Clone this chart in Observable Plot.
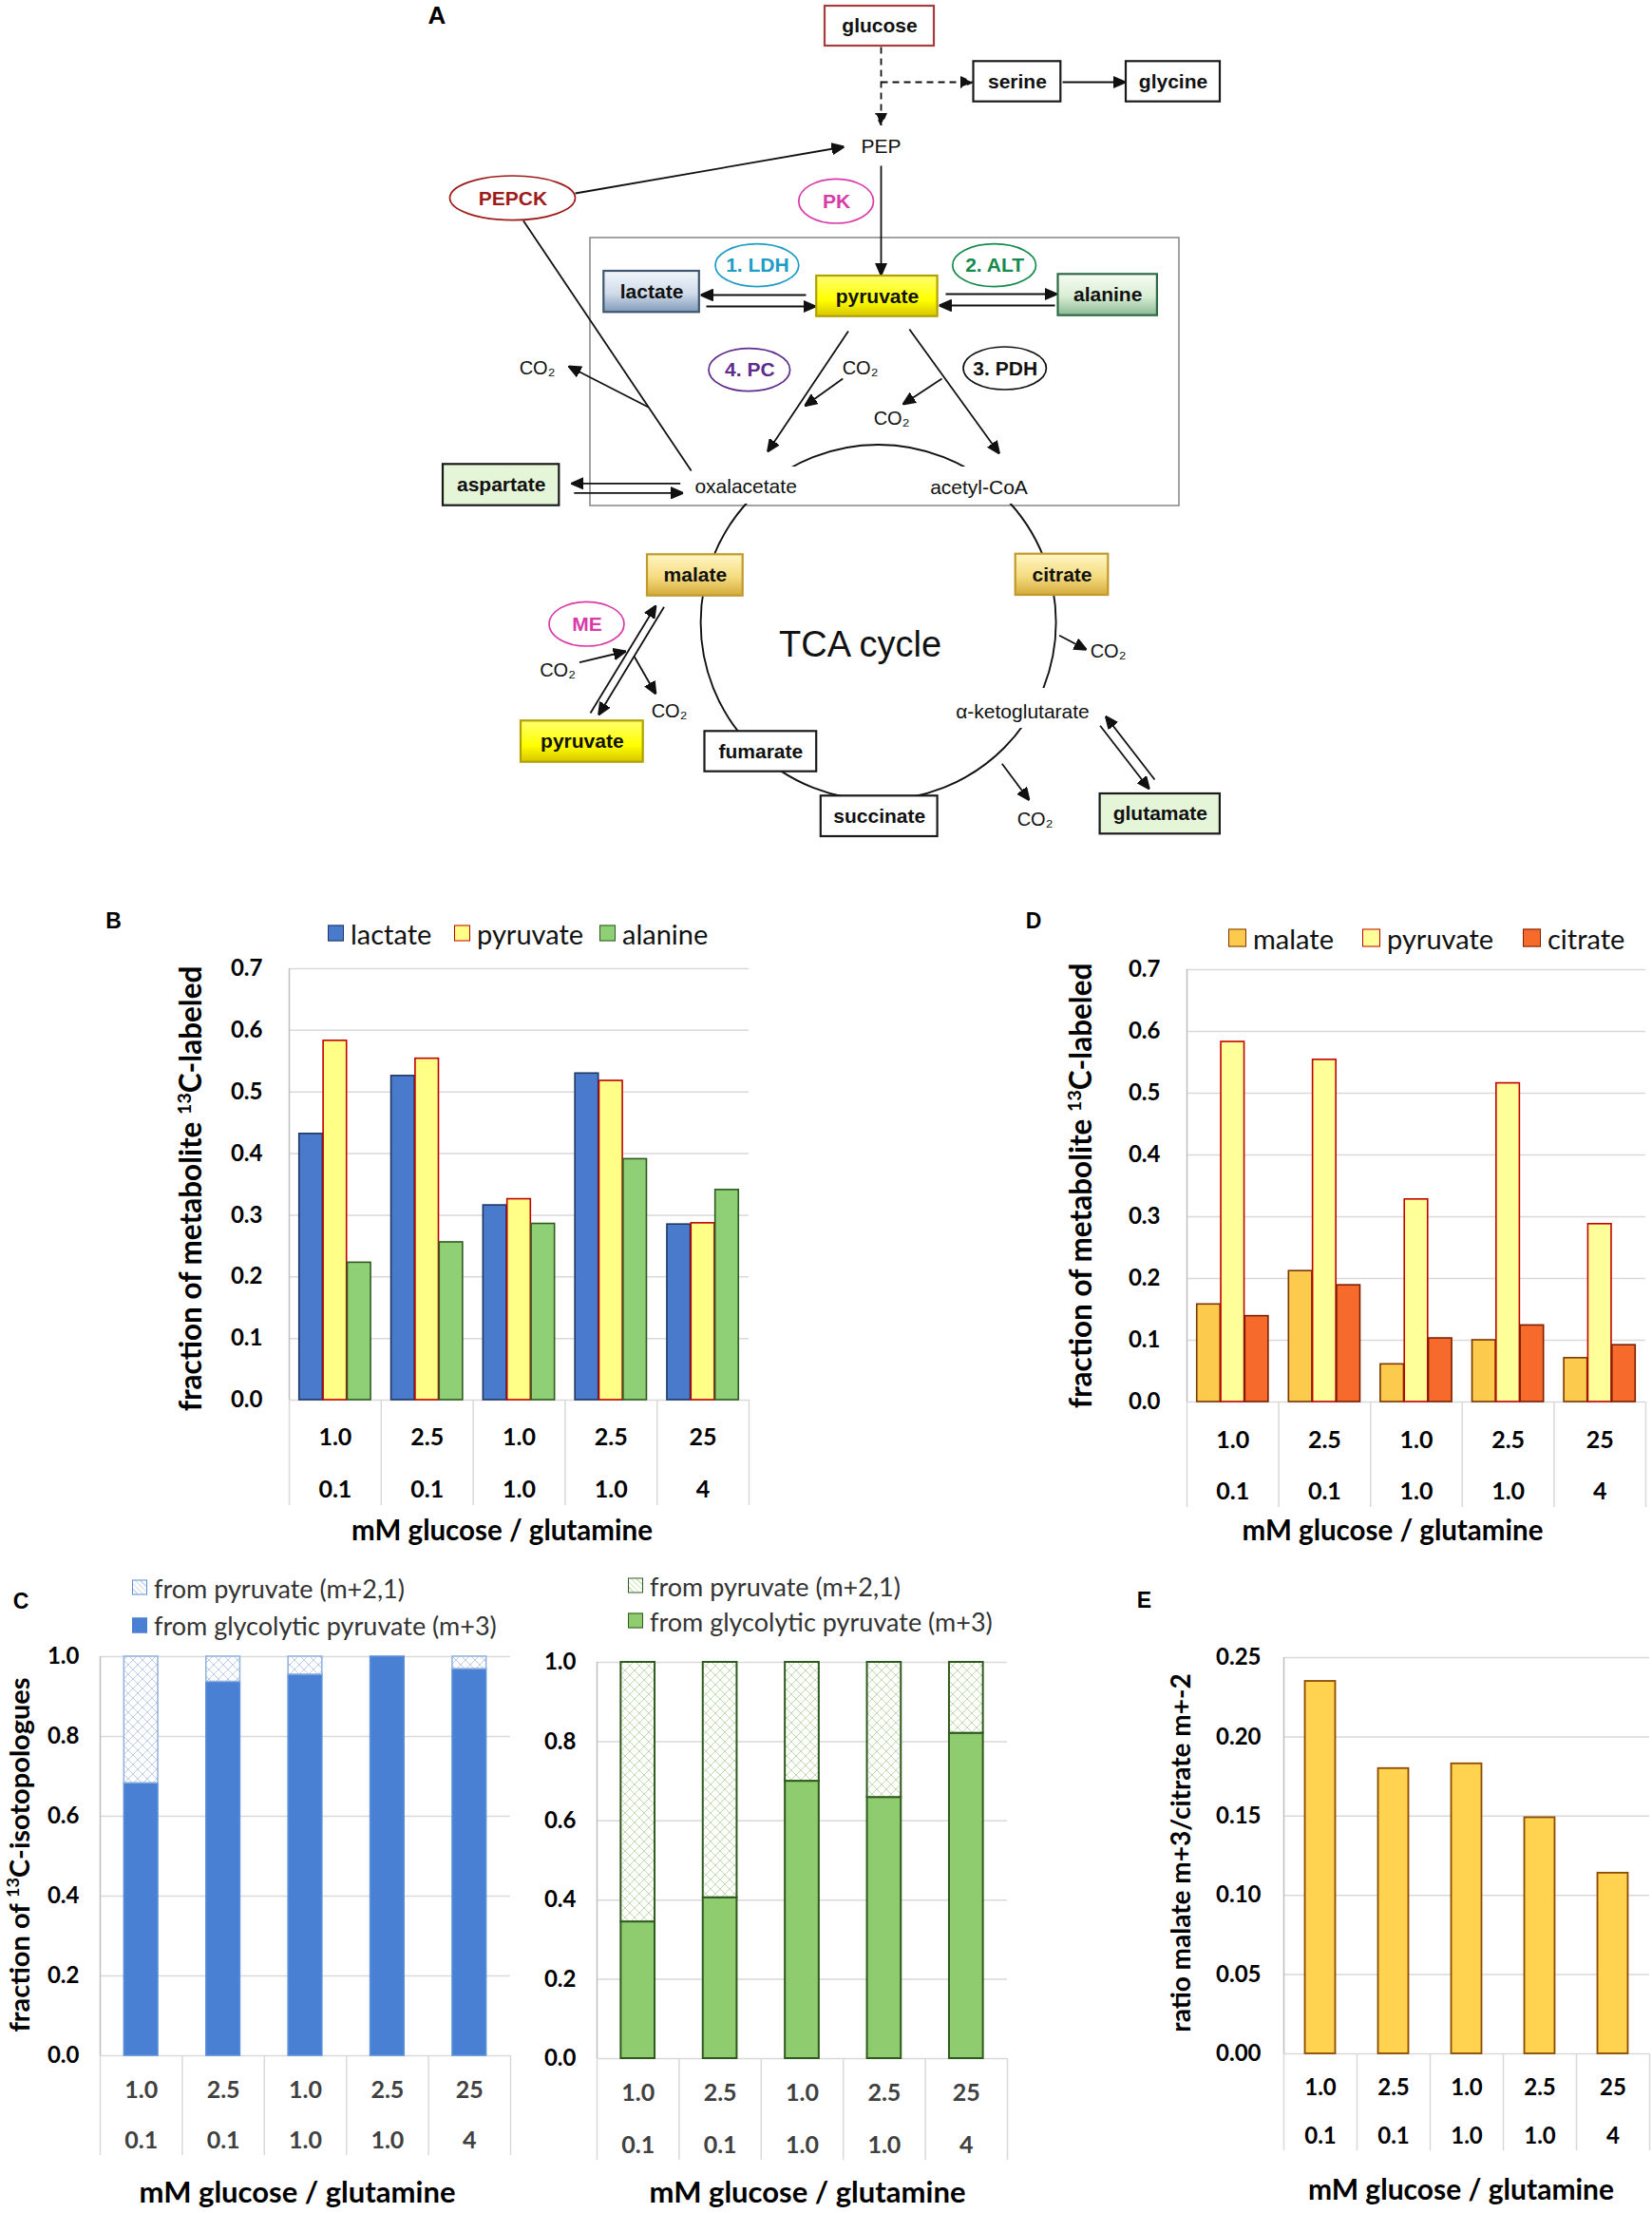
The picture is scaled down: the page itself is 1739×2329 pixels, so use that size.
<!DOCTYPE html>
<html><head><meta charset="utf-8">
<script src="https://cdn.jsdelivr.net/npm/d3@7"></script>
<script src="https://cdn.jsdelivr.net/npm/@observablehq/plot@0.6"></script>
<style>
html,body{margin:0;padding:0;background:#fff;}
#fig{position:relative;width:1739px;height:2329px;background:#fff;overflow:hidden;}
.abs{position:absolute;white-space:nowrap;}
.plab{font-family:"Liberation Sans",Arial,sans-serif;font-weight:bold;transform:translate(-50%,-50%);line-height:1;}
.xt{font-family:Lato,sans-serif;font-weight:bold;font-size:29px;transform:translate(-50%,-50%);line-height:1;}
.yt{font-family:Lato,sans-serif;font-weight:bold;font-size:31px;transform:translate(-50%,-50%) rotate(-90deg);line-height:1;}
.leg{display:flex;align-items:center;font-family:Lato,sans-serif;transform:translateY(-50%);line-height:1;}
.sw{display:inline-block;box-sizing:border-box;margin-right:7px;}
sup{font-size:0.62em;vertical-align:0.6em;line-height:0;}
</style></head><body>
<svg width="0" height="0" style="position:absolute;left:0;top:0">
<defs>
 <linearGradient id="gLactate" x1="0" y1="0" x2="0" y2="1">
  <stop offset="0" stop-color="#f2f6fb"/><stop offset="0.55" stop-color="#d0dcea"/><stop offset="1" stop-color="#8099b9"/>
 </linearGradient>
 <linearGradient id="gGreen" x1="0" y1="0" x2="0" y2="1">
  <stop offset="0" stop-color="#f6fcf4"/><stop offset="0.55" stop-color="#d8edd4"/><stop offset="1" stop-color="#8bba95"/>
 </linearGradient>
 <linearGradient id="gGold" x1="0" y1="0" x2="0" y2="1">
  <stop offset="0" stop-color="#fff6c4"/><stop offset="0.55" stop-color="#f5dc80"/><stop offset="1" stop-color="#d5ab3c"/>
 </linearGradient>
 <linearGradient id="gYellow" x1="0" y1="0" x2="0" y2="1">
  <stop offset="0" stop-color="#ffff70"/><stop offset="0.6" stop-color="#ffff00"/><stop offset="1" stop-color="#d6c600"/>
 </linearGradient>
 <pattern id="hatchBlue" patternUnits="userSpaceOnUse" width="10" height="10">
  <rect width="10" height="10" fill="#ffffff"/>
  <path d="M0,0L10,10M10,0L0,10" stroke="#b3c7e5" stroke-width="0.9"/>
 </pattern>
 <pattern id="hatchGreen" patternUnits="userSpaceOnUse" width="10" height="10">
  <rect width="10" height="10" fill="#ffffff"/>
  <path d="M0,0L10,10M10,0L0,10" stroke="#b9d9a6" stroke-width="0.9"/>
 </pattern>
</defs></svg>
<div id="fig"></div>
<script>
// ================= DATA =================
const glucoseMM   = ["1.0", "2.5", "1.0", "2.5", "25"];
const glutamineMM = ["0.1", "0.1", "1.0", "1.0", "4"];

// panel B: fraction of metabolite 13C-labeled
const seriesB   = ["lactate", "pyruvate", "alanine"];
const lactateB  = [0.432, 0.526, 0.316, 0.530, 0.285];
const pyruvateB = [0.583, 0.554, 0.326, 0.518, 0.287];
const alanineB  = [0.223, 0.256, 0.286, 0.391, 0.341];

// panel D
const seriesD   = ["malate", "pyruvate", "citrate"];
const malateD   = [0.158, 0.212, 0.061, 0.100, 0.071];
const pyruvateD = [0.583, 0.554, 0.328, 0.516, 0.288];
const citrateD  = [0.139, 0.189, 0.103, 0.124, 0.092];

// panel C: fraction of 13C-isotopologues
const partsC = ["from pyruvate (m+2,1)", "from glycolytic pyruvate (m+3)"];
const lactateM3  = [0.683, 0.937, 0.955, 1.000, 0.969];
const lactateM21 = [0.317, 0.063, 0.045, 0.000, 0.031];
const alanineM3  = [0.345, 0.406, 0.700, 0.659, 0.821];
const alanineM21 = [0.655, 0.594, 0.300, 0.341, 0.179];

// panel E: ratio malate m+3 / citrate m+2
const ratioE = [0.235, 0.180, 0.183, 0.149, 0.114];

// tick values
const ticksBD = [0, 0.1, 0.2, 0.3, 0.4, 0.5, 0.6, 0.7];
const ticksC  = [0, 0.2, 0.4, 0.6, 0.8, 1.0];
const ticksE  = [0, 0.05, 0.10, 0.15, 0.20, 0.25];

// ================= STYLES =================
const fillsB   = ["#4a7acb", "#ffff88", "#8fcf75"];
const strokesB = ["#1f3864", "#c00000", "#2f5b20"];
const fillsD   = ["#fccb4e", "#ffff99", "#f66a2c"];
const strokesD = ["#7a3500", "#c00000", "#7a1f00"];

// ================= DIAGRAM LAYOUT (panel A) =================
const pathwayFrame = [{x1: 621, x2: 1241, y1: 250, y2: 532}];
const tcaRing = [{x1: 737.6, x2: 1111.6, y1: 468, y2: 842}];
const labelMasks = [
  {x1: 726, x2: 842, y1: 491, y2: 530},
  {x1: 1012, x2: 1090, y1: 491, y2: 530},
  {x1: 1003, x2: 1150, y1: 724, y2: 766}
];
const boxes = [
  {label: "glucose",   kind: "glucose", x1: 868,    x2: 983,    y1: 6,     y2: 48},
  {label: "serine",    kind: "plain",   x1: 1024.5, x2: 1116.3, y1: 64.3,  y2: 106.7},
  {label: "glycine",   kind: "plain",   x1: 1185,   x2: 1284,   y1: 64.3,  y2: 106.7},
  {label: "lactate",   kind: "lactate", x1: 635.3,  x2: 735.8,  y1: 285,   y2: 328.3},
  {label: "pyruvate",  kind: "yellow",  x1: 859.2,  x2: 986.6,  y1: 290,   y2: 332.7},
  {label: "alanine",   kind: "alanine", x1: 1113.5, x2: 1217.9, y1: 288.3, y2: 331.7},
  {label: "aspartate", kind: "ltgreen", x1: 466,    x2: 588.3,  y1: 488.3, y2: 531.7},
  {label: "malate",    kind: "gold",    x1: 681,    x2: 781.7,  y1: 583.3, y2: 626.7},
  {label: "citrate",   kind: "gold",    x1: 1068.7, x2: 1166.3, y1: 582.7, y2: 626},
  {label: "pyruvate",  kind: "yellow",  x1: 548,    x2: 676.7,  y1: 758.3, y2: 801.7},
  {label: "fumarate",  kind: "plain",   x1: 741.5,  x2: 859.2,  y1: 769.3, y2: 811.7},
  {label: "succinate", kind: "plain",   x1: 863.8,  x2: 986.6,  y1: 837.3, y2: 880},
  {label: "glutamate", kind: "ltgreen", x1: 1157.6, x2: 1283.9, y1: 835,   y2: 877.3}
];
const boxFill = {glucose: "#ffffff", plain: "#ffffff", lactate: "url(#gLactate)", yellow: "url(#gYellow)",
  alanine: "url(#gGreen)", ltgreen: "#e5f5d8", gold: "url(#gGold)"};
const boxStroke = {glucose: "#a83c3c", plain: "#1a1a1a", lactate: "#3f5670", yellow: "#b0a000",
  alanine: "#2f6a45", ltgreen: "#1a1a1a", gold: "#c09a2a"};
const enzymes = [
  {label: "PEPCK",  color: "#9e1b1b", x1: 473.5,  x2: 605.5,  y1: 185,   y2: 231.7},
  {label: "PK",     color: "#d93aa9", x1: 840.8,  x2: 919.5,  y1: 188.3, y2: 235},
  {label: "1. LDH", color: "#1d9cc6", x1: 753,    x2: 840.8,  y1: 256.7, y2: 301.7},
  {label: "2. ALT", color: "#168a4c", x1: 1002.7, x2: 1090.5, y1: 256.7, y2: 301.7},
  {label: "4. PC",  color: "#5d2c8c", x1: 746,    x2: 831.6,  y1: 366.7, y2: 411.7},
  {label: "3. PDH", color: "#111111", x1: 1014,   x2: 1101.4, y1: 365,   y2: 410},
  {label: "ME",     color: "#d93aa9", x1: 578,    x2: 657,    y1: 633.3, y2: 680}
];
const dashedArrows = [
  {x1: 927, y1: 49, x2: 927, y2: 131},
  {x1: 927, y1: 86, x2: 1023, y2: 86}
];
const arrows = [
  {x1: 1118, y1: 86, x2: 1184, y2: 86},
  {x1: 605, y1: 203, x2: 888, y2: 154},
  {x1: 927, y1: 174, x2: 927, y2: 289},
  {x1: 848, y1: 310, x2: 737, y2: 310},
  {x1: 743, y1: 322, x2: 858, y2: 322},
  {x1: 995, y1: 309, x2: 1112, y2: 309},
  {x1: 1110, y1: 321, x2: 988, y2: 321},
  {x1: 892.5, y1: 348, x2: 807.5, y2: 475},
  {x1: 956.8, y1: 346, x2: 1051.5, y2: 477},
  {x1: 886.7, y1: 398, x2: 846.6, y2: 426.7},
  {x1: 991, y1: 398, x2: 950, y2: 425},
  {x1: 682, y1: 428, x2: 598, y2: 385},
  {x1: 715.7, y1: 508.3, x2: 600.9, y2: 508.3},
  {x1: 603.8, y1: 518.3, x2: 718.6, y2: 518.3},
  {x1: 621, y1: 750, x2: 690, y2: 636.7},
  {x1: 698.5, y1: 638.3, x2: 629.6, y2: 752},
  {x1: 609.5, y1: 696.7, x2: 658.3, y2: 685},
  {x1: 666.9, y1: 690, x2: 689.9, y2: 730},
  {x1: 1114.6, y1: 668.3, x2: 1143.3, y2: 683.3},
  {x1: 1054.3, y1: 803.3, x2: 1083, y2: 841.7},
  {x1: 1215, y1: 820, x2: 1163.4, y2: 753.3},
  {x1: 1157.6, y1: 763.3, x2: 1209.3, y2: 830}
];
const plainLines = [{x1: 550.4, y1: 231.7, x2: 727.2, y2: 495}];
const freeText = [
  {text: "PEP", x: 927, y: 154},
  {text: "oxalacetate", x: 784.6, y: 512},
  {text: "acetyl-CoA", x: 1030, y: 512.7},
  {text: "α-ketoglutarate", x: 1076, y: 748.3}
];
const co2Text = [
  {x: 565, y: 387}, {x: 905, y: 387}, {x: 938, y: 440}, {x: 586.5, y: 705},
  {x: 704, y: 748}, {x: 1166, y: 685}, {x: 1089, y: 862}
];
const tcaLabel = [{text: "TCA cycle", x: 905, y: 678}];

// ================= HELPERS =================
const fig = document.getElementById("fig");
function put(svg, left, top) {
  svg.style.position = "absolute";
  svg.style.left = left + "px";
  svg.style.top = top + "px";
  fig.appendChild(svg);
}
function html(cls, x, y, inner, css) {
  const d = document.createElement("div");
  d.className = "abs " + cls;
  d.style.left = x + "px"; d.style.top = y + "px";
  if (css) d.style.cssText += css;
  d.innerHTML = inner;
  fig.appendChild(d);
  return d;
}
function legendItem(x, y, size, swatchCss, label, fontSize, color) {
  html("leg", x, y,
    `<span class="sw" style="width:${size}px;height:${size}px;${swatchCss}"></span><span>${label}</span>`,
    `font-size:${fontSize}px;color:${color};`);
}
function arrowHead(color) {
  const ns = "http://www.w3.org/2000/svg";
  const m = document.createElementNS(ns, "marker");
  m.setAttribute("viewBox", "-12 -6 12 12");
  m.setAttribute("markerWidth", "13");
  m.setAttribute("markerHeight", "13");
  m.setAttribute("markerUnits", "userSpaceOnUse");
  m.setAttribute("orient", "auto");
  m.setAttribute("refX", "0");
  m.setAttribute("refY", "0");
  const p = document.createElementNS(ns, "path");
  p.setAttribute("d", "M-12,-5.2L0,0L-12,5.2Z");
  p.setAttribute("fill", color);
  m.appendChild(p);
  return m;
}
function arrowMark(data, extra) {
  const base = {x1: "x1", y1: "y1", x2: "x2", y2: "y2", stroke: "#111", strokeWidth: 1.8, ...extra};
  try { return Plot.link(data, {...base, markerEnd: arrowHead}); }
  catch (e) { return Plot.arrow(data, {...base, headLength: 12}); }
}
const cx = d => (d.x1 + d.x2) / 2, cy = d => (d.y1 + d.y2) / 2;

// ================= PANEL A (diagram) =================
const DW = 1739, DH = 900;
const diagram = Plot.plot({
  width: DW, height: DH, margin: 0,
  x: {domain: [0, DW], range: [0, DW], axis: null},
  y: {domain: [0, DH], range: [0, DH], axis: null},
  color: {type: "identity"},
  style: {background: "transparent", fontFamily: "'Liberation Sans', Arial, sans-serif", overflow: "visible"},
  marks: [
    Plot.rect(pathwayFrame, {x1: "x1", x2: "x2", y1: "y1", y2: "y2", fill: "none", stroke: "#8c8c8c", strokeWidth: 1.6}),
    Plot.rect(tcaRing, {x1: "x1", x2: "x2", y1: "y1", y2: "y2", rx: 1000, ry: 1000, fill: "none", stroke: "#111", strokeWidth: 1.9}),
    Plot.rect(labelMasks, {x1: "x1", x2: "x2", y1: "y1", y2: "y2", fill: "white"}),
    arrowMark(dashedArrows, {strokeDasharray: "7,5"}),
    arrowMark(arrows, {}),
    Plot.link(plainLines, {x1: "x1", y1: "y1", x2: "x2", y2: "y2", stroke: "#111", strokeWidth: 1.8}),
    Plot.rect(boxes, {x1: "x1", x2: "x2", y1: "y1", y2: "y2", fill: d => boxFill[d.kind], stroke: d => boxStroke[d.kind], strokeWidth: 2.2}),
    Plot.rect(enzymes, {x1: "x1", x2: "x2", y1: "y1", y2: "y2", rx: 1000, ry: 1000, fill: "white", stroke: "color", strokeWidth: 1.7}),
    Plot.text(boxes, {x: cx, y: cy, text: "label", fontWeight: "bold", fontSize: 21, fill: "#111"}),
    Plot.text(enzymes, {x: cx, y: cy, text: "label", fontWeight: "bold", fontSize: 21, fill: "color"}),
    Plot.text(freeText, {x: "x", y: "y", text: "text", fontSize: 21, fill: "#111"}),
    Plot.text(co2Text, {x: "x", y: "y", text: () => "CO₂", fontSize: 20, fill: "#111"}),
    Plot.text(tcaLabel, {x: "x", y: "y", text: "text", fontSize: 38, fill: "#111"})
  ]
});
put(diagram, 0, 0);

// ================= BAR CHART HELPER =================
function groupedBars(valuesBySeries, fills, strokes) {
  const pad = 0.111, bw = 0.254, gap = 0.008;
  return valuesBySeries.flatMap((vals, s) => vals.map((v, i) => ({
    x1: i + pad + s * (bw + gap), x2: i + pad + s * (bw + gap) + bw, y1: 0, y2: v,
    fill: fills[s], stroke: strokes[s]
  })));
}
function stackedBars(m3, m21, solid, solidStroke, hatch, hatchStroke) {
  const bw = 0.413, pad = (1 - bw) / 2;
  const out = [];
  m3.forEach((v, i) => {
    out.push({x1: i + pad, x2: i + pad + bw, y1: 0, y2: v, fill: solid, stroke: solidStroke});
    if (m21[i] > 0) out.push({x1: i + pad, x2: i + pad + bw, y1: v, y2: v + m21[i], fill: hatch, stroke: hatchStroke});
  });
  return out;
}
function singleBars(vals, fill, stroke) {
  const bw = 0.415, pad = (1 - bw) / 2;
  return vals.map((v, i) => ({x1: i + pad, x2: i + pad + bw, y1: 0, y2: v, fill, stroke}));
}
function barChart(g) {
  const ml = 95, mr = 3, mt = 16;
  const left = g.x1 - ml, top = g.y1 - mt;
  const width = g.x2 + mr - left;
  const height = g.tableBottom + 4 - top;
  const mb = height - (g.y2 - top);
  const n = glucoseMM.length;
  const cats = glucoseMM.map((c, i) => ({i, glc: c, gln: glutamineMM[i]}));
  const svg = Plot.plot({
    width, height, marginLeft: ml, marginRight: mr, marginTop: mt, marginBottom: mb,
    style: {fontFamily: "Lato, sans-serif", fontSize: "24px", fontWeight: "bold", color: "#000", background: "transparent", overflow: "visible"},
    x: {domain: [0, n], axis: null},
    y: {domain: g.domain, ticks: g.ticks, tickFormat: g.fmt, tickSize: 0, tickPadding: g.tickPad, label: null},
    color: {type: "identity"},
    marks: [
      Plot.ruleY(g.ticks, {stroke: "#d9d9d9", strokeWidth: 1.5}),
      Plot.ruleX(d3.range(n + 1), {x: d => d, y1: 0, y2: 0, insetBottom: -(g.tableBottom - g.y2), stroke: "#d9d9d9", strokeWidth: 1.5}),
      Plot.ruleX([0], {stroke: "#bfbfbf", strokeWidth: 1.5}),
      Plot.rect(g.bars, {x1: "x1", x2: "x2", y1: "y1", y2: "y2", fill: "fill", stroke: "stroke", strokeWidth: g.sw}),
      Plot.text(cats, {x: d => d.i + 0.5, y: 0, text: "glc", dy: g.row1 - g.y2, fontSize: g.catSize, fontWeight: "bold", fill: g.catColor}),
      Plot.text(cats, {x: d => d.i + 0.5, y: 0, text: "gln", dy: g.row2 - g.y2, fontSize: g.catSize, fontWeight: "bold", fill: g.catColor})
    ]
  });
  put(svg, left, top);
}

// ================= PANEL B =================
barChart({x1: 304, x2: 788, y1: 1019, y2: 1473, tableBottom: 1584, row1: 1512, row2: 1567,
  domain: [0, 0.7], ticks: ticksBD, fmt: d3.format(".1f"), tickPad: 28, sw: 1.6,
  bars: groupedBars([lactateB, pyruvateB, alanineB], fillsB, strokesB),
  catSize: 25, catColor: "#000"});
// ================= PANEL D =================
barChart({x1: 1249, x2: 1732, y1: 1020, y2: 1475, tableBottom: 1586, row1: 1515, row2: 1569,
  domain: [0, 0.7], ticks: ticksBD, fmt: d3.format(".1f"), tickPad: 28, sw: 1.6,
  bars: groupedBars([malateD, pyruvateD, citrateD], fillsD, strokesD),
  catSize: 25, catColor: "#000"});
// ================= PANEL C (left, right) =================
barChart({x1: 105, x2: 537, y1: 1743, y2: 2163, tableBottom: 2268, row1: 2199, row2: 2252,
  domain: [0, 1], ticks: ticksC, fmt: d3.format(".1f"), tickPad: 22, sw: 1.5,
  bars: stackedBars(lactateM3, lactateM21, "#4a80d4", "#5b8fd9", "url(#hatchBlue)", "#8fb0dd"),
  catSize: 25, catColor: "#404040"});
barChart({x1: 628, x2: 1060, y1: 1749, y2: 2166, tableBottom: 2273, row1: 2202, row2: 2257,
  domain: [0, 1], ticks: ticksC, fmt: d3.format(".1f"), tickPad: 22, sw: 2,
  bars: stackedBars(alanineM3, alanineM21, "#8fcc70", "#2e5a1c", "url(#hatchGreen)", "#2e5a1c"),
  catSize: 25, catColor: "#404040"});
// ================= PANEL E =================
barChart({x1: 1351, x2: 1736, y1: 1744, y2: 2161, tableBottom: 2263, row1: 2197, row2: 2248,
  domain: [0, 0.25], ticks: ticksE, fmt: d3.format(".2f"), tickPad: 24, sw: 1.8,
  bars: singleBars(ratioE, "#ffd24f", "#8c4a00"),
  catSize: 24, catColor: "#000"});

// ================= TEXT OVERLAYS =================
html("plab", 460, 16, "A", "font-size:26px;");
html("plab", 119.5, 969, "B", "font-size:23px;");
html("plab", 1088, 969, "D", "font-size:23px;");
html("plab", 22, 1684.5, "C", "font-size:23px;");
html("plab", 1204.5, 1683.5, "E", "font-size:23px;");

// legends
[345, 478, 631].forEach((x, s) => legendItem(x, 982, 17,
  `background:${fillsB[s]};border:1.6px solid ${strokesB[s]};`, seriesB[s], 29, "#111"));
[1293, 1434, 1603].forEach((x, s) => legendItem(x, 986.5, 19,
  `background:${fillsD[s]};border:1.8px solid ${strokesD[s]};`, seriesD[s], 29, "#111"));
const hatchCssBlue = "background:repeating-linear-gradient(45deg,#fff 0 3px,#c6d6ee 3px 4px);border:1.5px solid #5b8fd9;";
const hatchCssGreen = "background:repeating-linear-gradient(45deg,#fff 0 3px,#c6e3b4 3px 4px);border:1.5px solid #2e5a1c;";
legendItem(139, 1670.8, 16, hatchCssBlue, partsC[0], 27, "#333");
legendItem(139, 1710.3, 16, "background:#4a80d4;border:1.5px solid #4a80d4;", partsC[1], 27, "#333");
legendItem(661, 1668.6, 16, hatchCssGreen, partsC[0], 27, "#333");
legendItem(661, 1705.9, 16, "background:#8fcc70;border:1.8px solid #2e5a1c;", partsC[1], 27, "#333");

// axis titles
const xTitle = "mM glucose / glutamine";
html("xt", 528.5, 1610, xTitle, "font-size:29.5px;");
html("xt", 1466, 1610, xTitle, "font-size:29.5px;");
html("xt", 313, 2306, xTitle, "font-size:31px;");
html("xt", 850, 2306, xTitle, "font-size:31px;");
html("xt", 1538, 2303, xTitle, "font-size:30px;");
html("yt", 201, 1251, "fraction of metabolite <sup>13</sup>C-labeled", "font-size:31.5px;");
html("yt", 1138, 1248, "fraction of metabolite <sup>13</sup>C-labeled", "font-size:31.5px;");
html("yt", 19, 1952, "fraction of <sup>13</sup>C-isotopologues", "font-size:29px;");
html("yt", 1242, 1950, "ratio malate m+3/citrate m+-2", "font-size:28px;");
</script>
</body></html>
